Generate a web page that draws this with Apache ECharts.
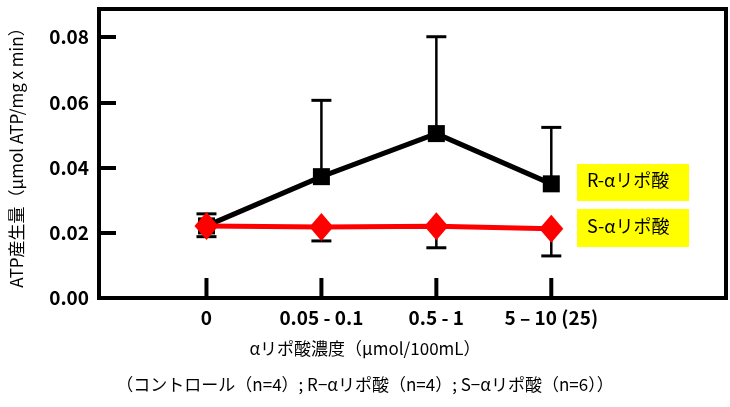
<!DOCTYPE html>
<html><head><meta charset="utf-8">
<script src="https://cdn.jsdelivr.net/npm/echarts@6/dist/echarts.min.js"></script>
<style>html,body{margin:0;background:#fff}#c{width:730px;height:407px}</style>
</head><body><div id="c"></div>
<script>
// 数据
var categories = ['0', '0.05 - 0.1', '0.5 - 1', '5 – 10 (25)'];
var rMean = [0.0221, 0.0372, 0.0504, 0.0350];
var rUpper = [0.0258, 0.0606, 0.0801, 0.0523];
var sMean = [0.0221, 0.0218, 0.0220, 0.0212];
var sLower = [0.0188, 0.0175, 0.0154, 0.0129];
var yTicks = [0, 0.02, 0.04, 0.06, 0.08];

var font = '"Liberation Sans Narrow", "Noto Sans CJK JP", sans-serif';
var jpFont = '"Noto Sans CJK JP", sans-serif';

function pts(arr) {
	return arr.map(function(v, i) { return [i, v]; });
}
function errData(mean, end) {
	return mean.map(function(v, i) { return [i, v, end[i]]; });
}
function errSeries(data, z) {
	return {
		type : 'custom',
		z : z,
		data : data,
		renderItem : function(params, api) {
			var a = api.coord([api.value(0), api.value(1)]);
			var b = api.coord([api.value(0), api.value(2)]);
			var w = 10;
			return {
				type : 'group',
				children : [ {
					type : 'line', shape : { x1 : a[0], y1 : a[1], x2 : b[0], y2 : b[1] },
					style : { stroke : '#000', lineWidth : 2.5 }
				}, {
					type : 'line', shape : { x1 : b[0] - w, y1 : b[1], x2 : b[0] + w, y2 : b[1] },
					style : { stroke : '#000', lineWidth : 3 }
				} ]
			};
		}
	};
}

var chart = echarts.init(document.getElementById('c'));
chart.setOption({
	animation : false,
	grid : { left : 99, right : 4, top : 9, bottom : 109, show : true, borderColor : '#000', borderWidth : 4 },
	xAxis : {
		type : 'value', min : -0.935, max : 4.52,
		axisLine : { show : false, onZero : false },
		splitLine : { show : false },
		axisTick : { show : false },
		axisLabel : { show : false }
	},
	yAxis : {
		type : 'value', min : 0, max : 0.0886, interval : 0.02,
		axisLine : { show : false, onZero : false },
		splitLine : { show : false },
		axisTick : { inside : true, length : 17, lineStyle : { color : '#000', width : 4 } },
		axisLabel : {
			margin : 10, color : '#000', fontSize : 19, fontWeight : 'bold', fontFamily : font,
			formatter : function(v) { return yTicks.indexOf(Math.round(v * 100) / 100) >= 0 ? v.toFixed(2) : ''; }
		},
		name : 'ATP産生量（µmol ATP/mg x min）',
		nameLocation : 'middle', nameGap : 74,
		nameTextStyle : { color : '#000', fontSize : 17, fontFamily : jpFont }
	},
	series : [
		errSeries(errData(rMean, rUpper), 1),
		errSeries(errData(sMean, sLower), 1),
		{
			type : 'line', z : 3, data : pts(rMean),
			symbol : 'rect', symbolSize : 17,
			lineStyle : { color : '#000', width : 5 },
			itemStyle : { color : '#000' }
		},
		{
			type : 'line', z : 4, data : pts(sMean),
			symbol : 'diamond', symbolSize : [24, 28],
			lineStyle : { color : '#f00', width : 5 },
			itemStyle : { color : '#f00' }
		},
		{
			// 横轴刻度和标签
			type : 'custom', z : 5, data : pts(sMean),
			renderItem : function(params, api) {
				var p = api.coord([api.value(0), 0]);
				return {
					type : 'group',
					children : [ {
						type : 'line', shape : { x1 : p[0], y1 : p[1], x2 : p[0], y2 : p[1] - 20 },
						style : { stroke : '#000', lineWidth : 4 }
					}, {
						type : 'text', x : p[0], y : p[1] + 10,
						style : { text : categories[params.dataIndex], align : 'center', verticalAlign : 'top',
							fill : '#000', font : 'bold 19px ' + font }
					} ]
				};
			}
		}
	],
	graphic : [
		{ type : 'rect', left : 577, top : 164, shape : { width : 112, height : 37 }, style : { fill : '#ffff00' } },
		{ type : 'text', left : 587, top : 171, style : { text : 'R-αリポ酸', fill : '#000', font : '18px ' + jpFont } },
		{ type : 'rect', left : 577, top : 209, shape : { width : 112, height : 38 }, style : { fill : '#ffff00' } },
		{ type : 'text', left : 587, top : 217, style : { text : 'S-αリポ酸', fill : '#000', font : '18px ' + jpFont } },
		{ type : 'text', left : 'center', top : 340, style : { text : 'αリポ酸濃度（µmol/100mL）', fill : '#000', font : '17px ' + jpFont } },
		{ type : 'text', left : 'center', top : 376, style : { text : '（コントロール（n=4）; R−αリポ酸（n=4）; S−αリポ酸（n=6））', fill : '#000', font : '17px ' + jpFont } }
	]
});
</script>
</body></html>
